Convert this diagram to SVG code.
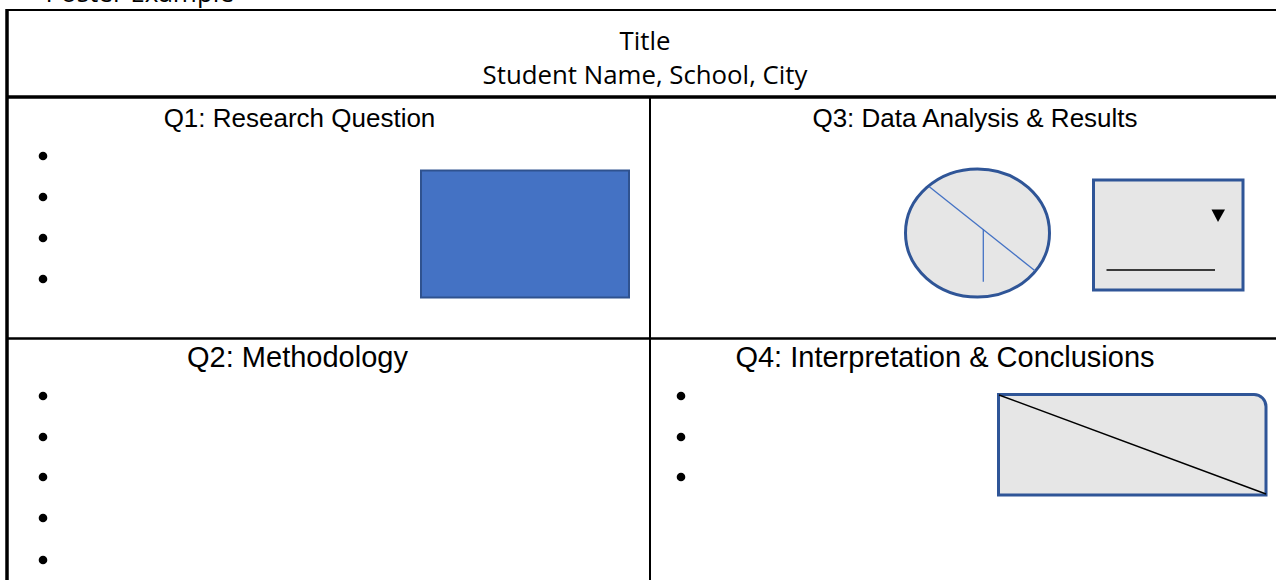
<svg xmlns="http://www.w3.org/2000/svg" width="1276" height="580" viewBox="0 0 1276 580">
<style>
  .hdr { font-family: "Liberation Sans", Arial, sans-serif; font-size: 26px; fill: #000; text-anchor: middle; }
  .hdr2 { font-size: 29px; }
  .ttl { font-family: "Open Sans", "Noto Sans", sans-serif; font-size: 25.8px; fill: #000; text-anchor: middle; }
  .bul { fill: #000; }
  .shape { fill: #E6E6E6; stroke: #2F5597; stroke-width: 3; }
  .grid { stroke: #000; fill: none; }
</style>
<rect width="1276" height="580" fill="#fff"/>
<text x="234" y="2" font-family="'Open Sans', sans-serif" font-size="26" text-anchor="end" fill="#000">Poster Example</text>
<g id="table">
  <line class="grid" x1="6" y1="10" x2="1276" y2="10" stroke="#333" stroke-width="2"/>
  <line class="grid" x1="7" y1="9" x2="7" y2="580" stroke-width="3.5"/>
  <line class="grid" x1="6" y1="97" x2="1276" y2="97" stroke-width="3.5"/>
  <line class="grid" x1="650" y1="97" x2="650" y2="580" stroke-width="2"/>
  <line class="grid" x1="6" y1="338.5" x2="1276" y2="338.5" stroke-width="2.5"/>
</g>
<g id="title">
  <text class="ttl" x="645" y="50">Title</text>
  <text class="ttl" x="645" y="83.5">Student Name, School, City</text>
</g>
<g id="q1">
  <text class="hdr" x="299.5" y="127">Q1: Research Question</text>
  <circle class="bul" cx="43" cy="156" r="4.3"/>
  <circle class="bul" cx="43" cy="197" r="4.3"/>
  <circle class="bul" cx="43" cy="238" r="4.3"/>
  <circle class="bul" cx="43" cy="279" r="4.3"/>
  <rect x="421" y="170.5" width="208" height="127" fill="#4472C4" stroke="#2F528F" stroke-width="2"/>
</g>
<g id="q3">
  <text class="hdr" x="975" y="127" font-size="26.8">Q3: Data Analysis &amp; Results</text>
  <ellipse class="shape" cx="977.5" cy="233" rx="72" ry="64"/>
  <line x1="929.3" y1="186.7" x2="1035" y2="270.7" stroke="#4472C4" stroke-width="1.3"/>
  <line x1="983.3" y1="229" x2="983.3" y2="281.7" stroke="#4472C4" stroke-width="1.3"/>
  <rect class="shape" x="1093.5" y="180" width="149.5" height="110"/>
  <polygon points="1211.5,209.5 1225,209.5 1218,222" fill="#000"/>
  <line x1="1106.5" y1="270" x2="1215" y2="270" stroke="#000" stroke-width="1.5"/>
</g>
<g id="q2">
  <text class="hdr hdr2" x="297.5" y="367">Q2: Methodology</text>
  <circle class="bul" cx="43" cy="396" r="4.3"/>
  <circle class="bul" cx="43" cy="437" r="4.3"/>
  <circle class="bul" cx="43" cy="477" r="4.3"/>
  <circle class="bul" cx="43" cy="518" r="4.3"/>
  <circle class="bul" cx="43" cy="560" r="4.3"/>
</g>
<g id="q4">
  <text class="hdr hdr2" x="945" y="367">Q4: Interpretation &amp; Conclusions</text>
  <circle class="bul" cx="681" cy="396" r="4.3"/>
  <circle class="bul" cx="681" cy="437" r="4.3"/>
  <circle class="bul" cx="681" cy="477" r="4.3"/>
  <path class="shape" d="M998.5,394.5 H1254 A12,12 0 0 1 1266,406.5 V495 H998.5 Z"/>
  <line x1="999" y1="395" x2="1266" y2="494" stroke="#000" stroke-width="1.5"/>
</g>
<g id="connectors"></g>
</svg>
